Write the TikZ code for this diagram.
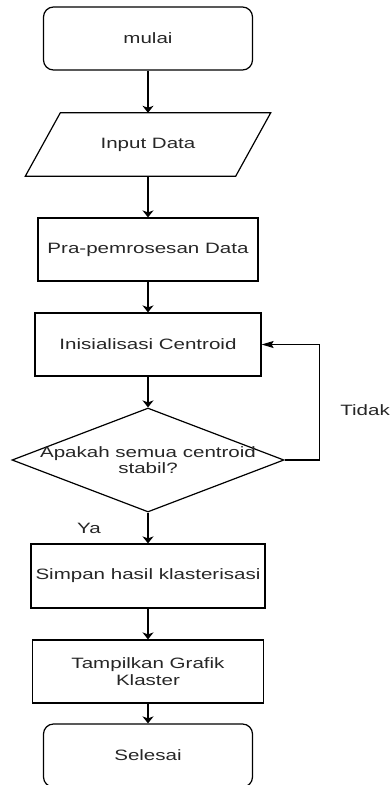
\documentclass[tikz,border=0pt]{standalone}
\usepackage{fontspec}
\setmainfont{Liberation Sans}[FakeStretch=1.37]
\usetikzlibrary{shapes.geometric,arrows.meta}
\tikzset{
  txt/.style={font=\fontsize{15}{16.5}\selectfont, text=black!85, align=center, inner sep=0pt},
  box/.style={txt, draw=black, line width=1.2pt, minimum height=63pt},
  term/.style={box, rounded corners=10pt, minimum width=209pt},
  decision/.style={draw=black, diamond, line width=1.2pt, minimum width=272pt, minimum height=104pt, inner sep=0pt},
  flow/.style={line width=1.2pt, -{Stealth[length=7pt,width=11pt,inset=2pt]}},
}
\begin{document}
\begin{tikzpicture}[x=1pt, y=-1pt]
\useasboundingbox (0,0) rectangle (391,785);
% 開始
	\node[term] (start) at (148,38.5) {mulai};
% 入力（平行四辺形）
	\node[txt, minimum width=210pt, minimum height=63pt] (input) at (148,144.5) {Input Data};
	\draw[line width=1.2pt]([xshift=17.5pt]input.north west)-- ([xshift=17.5pt]input.north east)
		-- ([xshift=-17.5pt]input.south east)-- ([xshift=-17.5pt]input.south west)-- cycle;
% 処理
	\node[box, minimum width=220pt] (prep) at (148,249.5) {Pra-pemrosesan Data};
	\node[box, minimum width=226pt] (init) at (148,344.5) {Inisialisasi Centroid};
% 判定
	\node[decision] (cond) at (148,460) {};
	\node[txt] (condtext) at (148,460) {Apakah semua centroid\\stabil?};
	\node[txt, anchor=east] (no) at (390,410) {Tidak};
	\node[txt] (yes) at (89,528) {Ya};
% 後処理
	\node[box, minimum width=234pt, minimum height=64pt] (save) at (148,576) {Simpan hasil klasterisasi};
	\node[box, minimum width=231pt] (show) at (148,671.5) {Tampilkan Grafik\\Klaster};
% 終了
	\node[term] (stop) at (148,755.5) {Selesai};
% 矢印
	\draw[flow](start)-- (input);
	\draw[flow](input)-- (prep);
	\draw[flow](prep)-- (init);
	\draw[flow](init)-- (cond);
	\draw[flow](cond)-- (save);
	\draw[flow](save)-- (show);
	\draw[flow](show)-- (stop);
	\draw[flow, -{Stealth[length=12pt,width=7pt,inset=2pt]}](cond.east)-- ++(35,0) |- (init.east); %戻り
\end{tikzpicture}
\end{document}
